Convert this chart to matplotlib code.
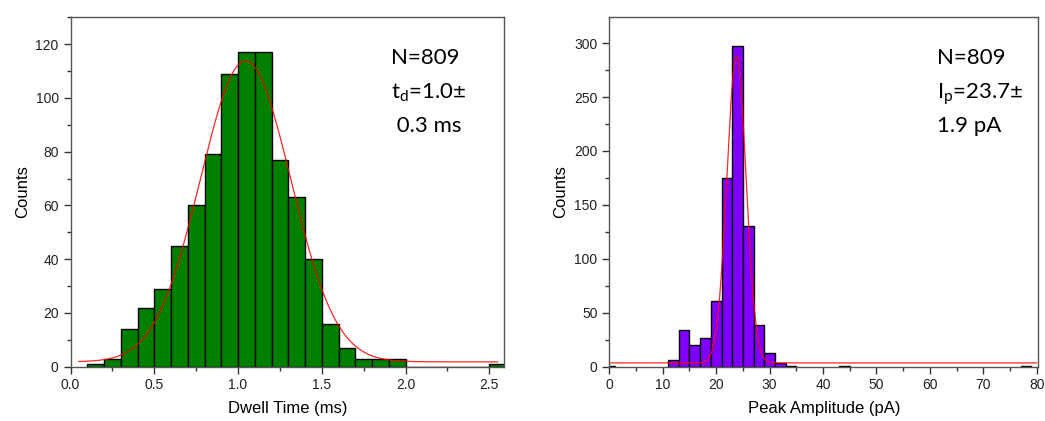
import numpy as np
import matplotlib
matplotlib.use("Agg")
import matplotlib.pyplot as plt
from matplotlib.ticker import MultipleLocator, FormatStrFormatter

# dwell time histogram (0.1 ms bins, left edges)
dwell_edges = [0.1, 0.2, 0.3, 0.4, 0.5, 0.6, 0.7, 0.8, 0.9, 1.0, 1.1, 1.2, 1.3,
               1.4, 1.5, 1.6, 1.7, 1.8, 1.9, 2.0, 2.1, 2.2, 2.3, 2.4, 2.5]
dwell_counts = [1, 3, 14, 22, 29, 45, 60, 79, 109, 117, 117, 77, 63,
                40, 16, 7, 3, 3, 3, 0, 0, 0, 0, 0, 1]
dwell_width = 0.1

# peak amplitude histogram (2 pA bins, centres)
amp_centers = [0, 12, 14, 16, 18, 20, 22, 24, 26, 28, 30, 32, 34, 44, 78]
amp_counts = [1, 6, 34, 20, 27, 61, 175, 297, 130, 39, 13, 3, 1, 1, 1]
amp_width = 2.0

# gaussian fits: offset, centre, sigma, height
dwell_fit = dict(y0=1.8, xc=1.045, sigma=0.27, amp=112.0)
amp_fit = dict(y0=3.5, xc=23.8, sigma=1.8, amp=284.0)

dwell_text = ["N=809", r"t$_\mathregular{d}$=1.0±", " 0.3 ms"]
amp_text = ["N=809", r"I$_\mathregular{p}$=23.7±", "1.9 pA"]


def gauss(x, y0, xc, sigma, amp):
    return y0 + amp * np.exp(-(x - xc) ** 2 / (2 * sigma ** 2))


plt.rcParams["font.family"] = ["Liberation Sans", "DejaVu Sans"]
plt.rcParams["mathtext.fontset"] = "custom"
plt.rcParams["mathtext.rm"] = "Lato"

fig = plt.figure(figsize=(10.45, 4.21), dpi=100)
ax1 = fig.add_axes([0.0675, 0.129, 0.4151, 0.830])
ax2 = fig.add_axes([0.5831, 0.129, 0.4105, 0.830])


def style(ax, xmaj, xmin, ymaj, ymin):
    for s in ax.spines.values():
        s.set_color("#555555")
        s.set_linewidth(1.0)
    ax.xaxis.set_major_locator(MultipleLocator(xmaj))
    ax.xaxis.set_minor_locator(MultipleLocator(xmin))
    ax.yaxis.set_major_locator(MultipleLocator(ymaj))
    ax.yaxis.set_minor_locator(MultipleLocator(ymin))
    ax.tick_params(which="both", direction="out", color="#333333",
                   top=False, right=False)
    ax.tick_params(which="major", length=5, width=1, labelsize=10,
                   labelcolor="#222222")
    ax.tick_params(which="minor", length=3, width=1)


# dwell time
ax1.bar(dwell_edges, dwell_counts, width=dwell_width, align="edge",
        color="#007f00", edgecolor="black", linewidth=1.0)
xf = np.linspace(0.05, 2.55, 400)
ax1.plot(xf, gauss(xf, **dwell_fit), color="red", lw=0.9, alpha=0.85)
ax1.set_xlim(0, 2.59)
ax1.set_ylim(0, 130)
style(ax1, 0.5, 0.25, 20, 10)
ax1.xaxis.set_major_formatter(FormatStrFormatter("%.1f"))
ax1.set_xlabel("Dwell Time (ms)", fontsize=12, labelpad=6)
ax1.set_ylabel("Counts", fontsize=12)

# peak amplitude
ax2.bar(amp_centers, amp_counts, width=amp_width, align="center",
        color="#8000ff", edgecolor="black", linewidth=1.0)
xf2 = np.linspace(0, 80, 800)
ax2.plot(xf2, gauss(xf2, **amp_fit), color="red", lw=0.9, alpha=0.85)
ax2.set_xlim(0, 80.3)
ax2.set_ylim(0, 324)
style(ax2, 10, 5, 50, 25)
ax2.set_xlabel("Peak Amplitude (pA)", fontsize=12, labelpad=6)
ax2.set_ylabel("Counts", fontsize=12)

for ax, lines, xpos in ((ax1, dwell_text, 0.739), (ax2, amp_text, 0.763)):
    for i, line in enumerate(lines):
        ax.text(xpos, 0.865 - i * 0.097, line, transform=ax.transAxes,
                fontsize=16, family="Lato", color="black", va="baseline")

fig.savefig("out.png", dpi=100)
